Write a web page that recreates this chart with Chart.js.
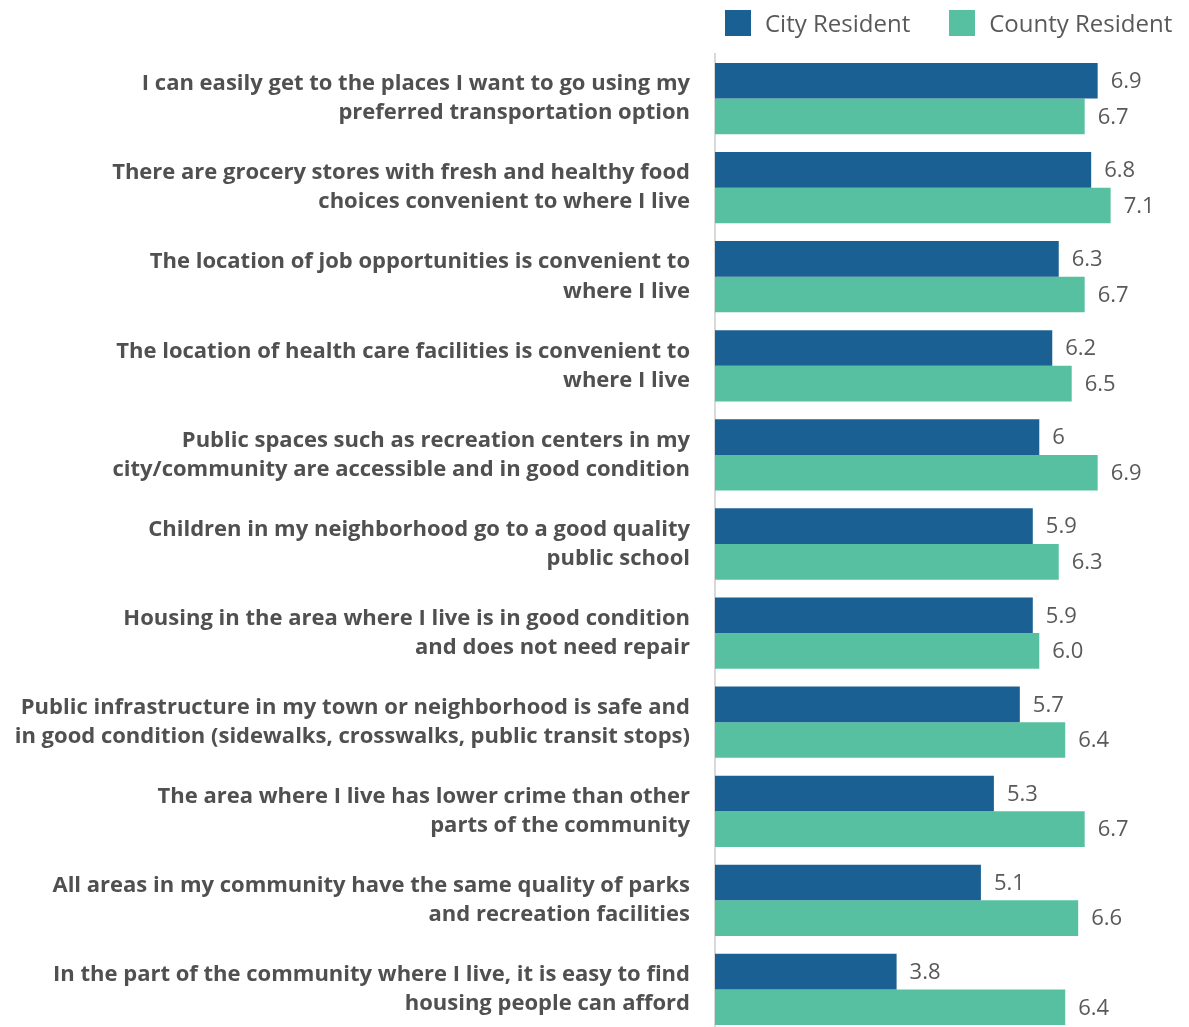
<!DOCTYPE html>
<html>
<head>
<meta charset="utf-8">
<script src="https://cdn.jsdelivr.net/npm/chart.js@4/dist/chart.umd.min.js"></script>
<style>
  html, body { margin: 0; padding: 0; background: #fff; overflow: hidden; }
  #wrap { position: relative; width: 1189px; height: 1034px; }
  #legend { position: absolute; top: 6px; left: 725px; display: flex; white-space: nowrap; font-family: "Open Sans", sans-serif; font-size: 24px; color: #595959; }
  #legend .item { display: flex; align-items: center; margin-right: 39px; }
  #legend .box { width: 26px; height: 26px; margin-right: 14px; }
</style>
</head>
<body>
<div id="wrap">
  <canvas id="bars"></canvas>
  <div id="legend"></div>
</div>
<script>
const categories = [
  ["I can easily get to the places I want to go using my", "preferred transportation option"],
  ["There are grocery stores with fresh and healthy food", "choices convenient to where I live"],
  ["The location of job opportunities is convenient to", "where I live"],
  ["The location of health care facilities is convenient to", "where I live"],
  ["Public spaces such as recreation centers in my", "city/community are accessible and in good condition"],
  ["Children in my neighborhood go to a good quality", "public school"],
  ["Housing in the area where I live is in good condition", "and does not need repair"],
  ["Public infrastructure in my town or neighborhood is safe and", "in good condition (sidewalks, crosswalks, public transit stops)"],
  ["The area where I live has lower crime than other", "parts of the community"],
  ["All areas in my community have the same quality of parks", "and recreation facilities"],
  ["In the part of the community where I live, it is easy to find", "housing people can afford"]
];
const city_values = [6.9, 6.8, 6.3, 6.2, 6, 5.9, 5.9, 5.7, 5.3, 5.1, 3.8];
const county_values = [6.7, 7.1, 6.7, 6.5, 6.9, 6.3, 6.0, 6.4, 6.7, 6.6, 6.4];
const series_names = ["City Resident", "County Resident"];
const colors = ["#1b6093", "#57c0a0"];

// legend
let legend = document.getElementById('legend')
series_names.forEach((name, i) => {
  legend.innerHTML += '<div class="item"><div class="box" style="background:' + colors[i] + '"></div>' + name + '</div>'
})

// value labels next to the bar ends
const valueLabels = {
  id: 'valueLabels',
  afterDatasetsDraw(chart) {
    const ctx = chart.ctx
    ctx.save()
    ctx.font = '22px "Open Sans"'
    ctx.fillStyle = '#595959'
    ctx.textBaseline = 'middle'
    ctx.textAlign = 'left'
    chart.data.datasets.forEach((ds, di) => {
      chart.getDatasetMeta(di).data.forEach((bar, i) => {
        let v = ds.data[i]
        let txt = di == 0 ? String(v) : v.toFixed(1)
        ctx.fillText(txt, bar.x + 13, bar.y + 1)
      })
    })
    ctx.restore()
  }
}

let canvas = document.getElementById('bars')

new Chart(canvas, {
  type: 'bar',
  data: {
    labels: categories,
    datasets: [
      { label: series_names[0], data: city_values, backgroundColor: colors[0] },
      { label: series_names[1], data: county_values, backgroundColor: colors[1] }
    ]
  },
  options: {
    indexAxis: 'y',
    responsive: true,
    maintainAspectRatio: false,
    animation: false,
    layout: { padding: { top: 54, right: 20, bottom: 0, left: 0 } },
    datasets: { bar: { categoryPercentage: 0.8, barPercentage: 1.0 } },
    scales: {
      x: {
        display: false,
        min: 1,
        max: 8
      },
      y: {
        afterFit(scale) {
          scale.width = 715
          scale.paddingTop = 0
          scale.paddingBottom = 0
        },
        grid: { display: false, drawTicks: false },
        border: { display: true, color: '#d9d9d9', width: 2 },
        ticks: {
          padding: 25,
          color: '#505050',
          font: { family: 'Open Sans', size: 22, weight: 'bold', lineHeight: 1.32 }
        }
      }
    },
    plugins: {
      legend: { display: false },
      tooltip: { enabled: false }
    }
  },
  plugins: [valueLabels]
})
</script>
</body>
</html>
